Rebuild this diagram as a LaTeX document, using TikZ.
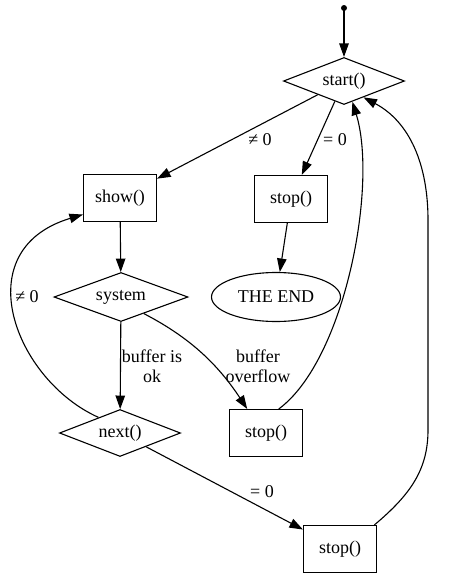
\documentclass[tikz,border=0pt]{standalone}
\usepackage{fontspec}
\setmainfont{Liberation Serif}
\usetikzlibrary{shapes.geometric,arrows.meta}
\begin{document}
\begin{tikzpicture}[x=1pt,y=-1pt,
  every node/.style={font=\fontsize{18}{20}\selectfont},
  box/.style={draw,line width=1.1pt,rectangle,minimum width=73pt,minimum height=47pt,inner sep=0pt},
  dia/.style={draw,line width=1.1pt,diamond,aspect=2.6,inner sep=0pt},
  ell/.style={draw,line width=1.1pt,ellipse,minimum width=129pt,minimum height=49pt,inner sep=0pt},
  lbl/.style={align=center,inner sep=0pt},
  edge/.style={line width=1.1pt,-{Triangle[length=13.5pt,width=9.5pt]}},
  line join=miter]
\useasboundingbox (0,0) rectangle (474,582);
% nodes
\fill (344,8) circle (3pt) coordinate (init);
\node[dia,minimum width=121pt,minimum height=47pt] (start) at (344,81) {start()};
\node[box] (show) at (120,198) {show()};
\node[box] (stopa) at (291,199) {stop()};
\node[ell] (theend) at (276,297) {THE END};
\node[dia,minimum width=134pt,minimum height=49pt] (system) at (121,297) {system};
\node[dia,minimum width=121pt,minimum height=47pt] (next) at (120,433) {next()};
\node[box] (stopb) at (266,433) {stop()};
\node[box] (stopc) at (340,549) {stop()};
% labels
\node[lbl] (l1) at (260,140) {≠ 0};
\node[lbl] (l2) at (335,140) {= 0};
\node[lbl] (l3) at (27,297) {≠ 0};
\node[lbl] (l4) at (152,366) {buffer is\\ok};
\node[lbl] (l5) at (258,366) {buffer\\overflow};
\node[lbl] (l6) at (262,492) {= 0};
% edges
\draw[edge] (init) -- (start);
\draw[edge] (start) -- (show);
\draw[edge] (start) -- (stopa);
\draw[edge] (stopa) -- (theend);
\draw[edge] (show) -- (system);
\draw[edge] (system) -- (next);
\draw[edge] (system.-36) .. controls (185,335) and (215,360) .. (stopb.128);
\draw[edge] (next) -- (stopc);
\draw[edge] (next.144) .. controls (15,380) and (-35,250) .. (show.204);
\draw[edge] (stopb.62) .. controls (345,360) and (378,185) .. (start.-68);
\draw[edge] (stopc.35) .. controls (410,495) and (428,470) .. (428,430) -- (428,220) .. controls (428,165) and (410,122) .. (start.-40);
\end{tikzpicture}
\end{document}
